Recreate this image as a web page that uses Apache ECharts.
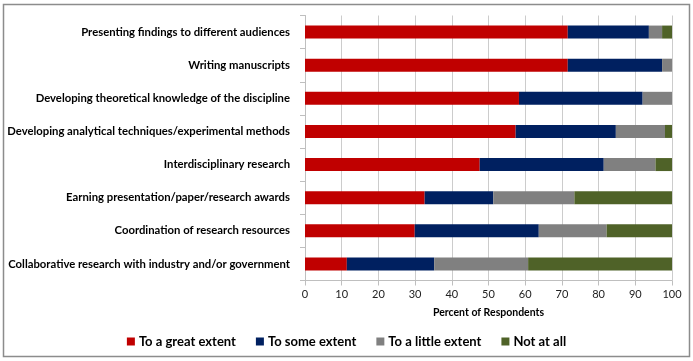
<!DOCTYPE html>
<html><head><meta charset="utf-8">
<script src="https://cdn.jsdelivr.net/npm/echarts@6/dist/echarts.min.js"></script>
<style>html,body{margin:0;padding:0;background:#fff}#c{width:693px;height:361px}</style>
</head><body><div id="c"></div>
<script>
const categories = [
  "Presenting findings to different audiences",
  "Writing manuscripts",
  "Developing theoretical knowledge of the discipline",
  "Developing analytical techniques/experimental methods",
  "Interdisciplinary research",
  "Earning presentation/paper/research awards",
  "Coordination of research resources",
  "Collaborative research with industry and/or government"
];
const seriesNames = ["To a great extent", "To some extent", "To a little extent", "Not at all"];
const greatExtent  = [71.6, 71.6, 58.3, 57.4, 47.6, 32.6, 29.9, 11.4];
const someExtent   = [22.1, 25.7, 33.7, 27.3, 33.8, 18.7, 33.8, 23.8];
const littleExtent = [3.6, 2.7, 8.0, 13.4, 14.1, 22.1, 18.5, 25.6];
const notAtAll     = [2.7, 0, 0, 1.9, 4.5, 26.6, 17.8, 39.2];
const xTicks = [0, 10, 20, 30, 40, 50, 60, 70, 80, 90, 100];

const colors = ["#C00000", "#002060", "#808080", "#4F6228"];
const values = [greatExtent, someExtent, littleExtent, notAtAll];
const font = "Lato, 'Open Sans', sans-serif";

const chart = echarts.init(document.getElementById('c'), null, {renderer: 'canvas'});
chart.setOption({
  animation: false,
  textStyle: {fontFamily: font},
  graphic: [{
    type: 'rect', shape: {x: 3.5, y: 4.5, width: 686, height: 352},
    style: {fill: 'none', stroke: '#8c8c8c', lineWidth: 1.5}, silent: true
  }],
  grid: {left: 305, right: 21, top: 15.5, bottom: 80.5, containLabel: false, outerBoundsMode: 'none'},
  xAxis: {
    type: 'value', min: 0, max: 100, interval: 10,
    name: 'Percent of Respondents', nameLocation: 'middle', nameGap: 27,
    nameTextStyle: {fontFamily: font, fontSize: 10.5, fontWeight: 'bold', color: '#000'},
    axisLine: {show: true, lineStyle: {color: '#bfbfbf'}},
    axisTick: {show: true, length: 5, lineStyle: {color: '#bfbfbf'}},
    axisLabel: {fontFamily: font, fontSize: 11, color: '#222', margin: 8,
      formatter: v => xTicks.includes(v) ? String(v) : ''},
    splitLine: {show: true, lineStyle: {color: '#cccccc', width: 1}}
  },
  yAxis: {
    type: 'category', data: categories, inverse: true,
    axisLine: {show: true, lineStyle: {color: '#bfbfbf'}},
    axisTick: {show: true, length: 5, lineStyle: {color: '#bfbfbf'}},
    axisLabel: {fontFamily: font, fontSize: 11.3, fontWeight: 'bold', color: '#000', margin: 15}
  },
  legend: {
    bottom: 8, left: 'center', itemWidth: 8, itemHeight: 8, itemGap: 20,
    icon: 'rect',
    textStyle: {fontFamily: font, fontSize: 13, fontWeight: 'bold', color: '#000', padding: [0,0,0,-1]},
    data: seriesNames
  },
  series: seriesNames.map((n, i) => ({
    name: n, type: 'bar', stack: 'total', data: values[i],
    barWidth: 13, itemStyle: {color: colors[i]}
  }))
});
</script></body></html>
